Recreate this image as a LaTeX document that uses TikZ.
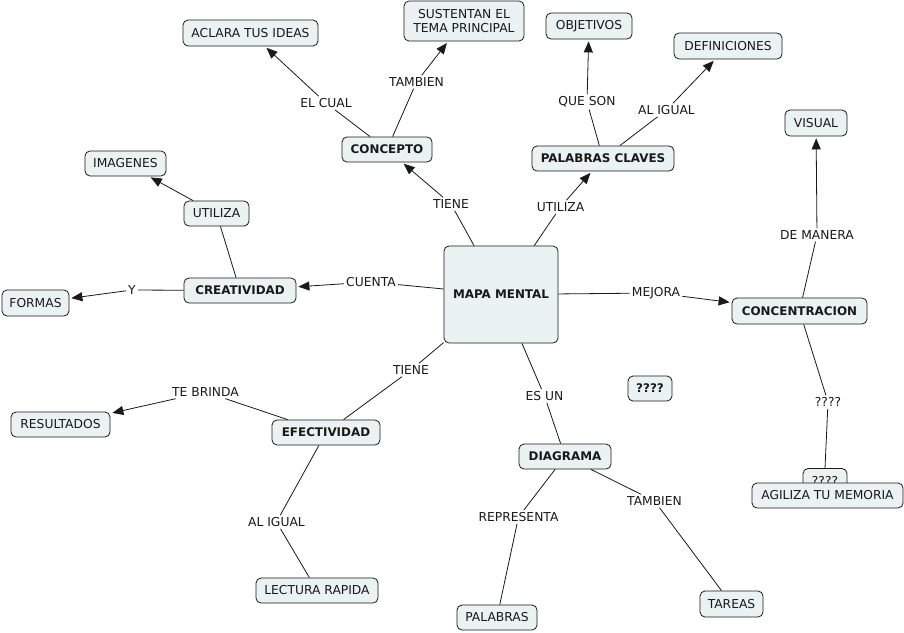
\documentclass[tikz,border=0pt]{standalone}
\usepackage{fontspec}
\setmainfont{DejaVu Sans}
\usetikzlibrary{arrows.meta}
\definecolor{boxfill}{RGB}{235,242,244}
\definecolor{ink}{RGB}{25,25,25}
\begin{document}
\begin{tikzpicture}[x=1pt,y=-1pt,
 box/.style={draw=ink, line width=0.8pt, rounded corners=5pt, fill=boxfill, minimum height=25pt, inner sep=0pt, font=\fontsize{12.3}{14}\selectfont, text=ink},
 bbox/.style={box, font=\fontsize{11.9}{14}\selectfont\bfseries},
 lab/.style={inner sep=2pt, font=\fontsize{12.3}{14}\selectfont, text=ink},
 conn/.style={draw=ink, line width=0.8pt},
 arr/.style={conn, -{Triangle[length=11pt,width=9pt]}, shorten >=2pt},
]
\useasboundingbox[fill=white] (0,0) rectangle (904,632);

% concepts
\node[bbox, minimum width=114pt, minimum height=97pt] (mapa) at (501,294.5) {MAPA MENTAL};
\node[bbox, minimum width=90pt] (concepto) at (387,149.5) {CONCEPTO};
\node[box, minimum width=135pt, minimum height=26pt] (aclara) at (250.5,33) {ACLARA TUS IDEAS};
\node[box, minimum width=120pt, minimum height=40pt, align=center] (sust) at (464,21) {SUSTENTAN EL\\TEMA PRINCIPAL};
\node[bbox, minimum width=142pt] (claves) at (603,158.5) {PALABRAS CLAVES};
\node[box, minimum width=86pt, minimum height=26pt] (objetivos) at (589,26) {OBJETIVOS};
\node[box, minimum width=108pt, minimum height=26pt] (defin) at (728,46) {DEFINICIONES};
\node[box, minimum width=62pt, minimum height=26pt] (visual) at (816,123) {VISUAL};
\node[bbox, minimum width=135pt, minimum height=26pt] (concen) at (799.5,311) {CONCENTRACION};
\node[box, minimum width=81pt] (imagenes) at (125.5,163.5) {IMAGENES};
\node[box, minimum width=65pt] (utilizab) at (216.5,213.5) {UTILIZA};
\node[bbox, minimum width=112pt] (creat) at (240,290.5) {CREATIVIDAD};
\node[box, minimum width=67pt, minimum height=26pt] (formas) at (35.5,303) {FORMAS};
\node[bbox, minimum width=108pt] (efect) at (326,432.5) {EFECTIVIDAD};
\node[box, minimum width=99pt] (result) at (60.5,424.5) {RESULTADOS};
\node[box, minimum width=122pt] (lectura) at (317,590.5) {LECTURA RAPIDA};
\node[bbox, minimum width=92pt] (diagrama) at (565,456.5) {DIAGRAMA};
\node[bbox, minimum width=44pt] (q1) at (650,388.5) {????};
\node[box, minimum width=80pt] (palabras) at (497,617.5) {PALABRAS};
\node[box, minimum width=63pt, minimum height=26pt] (tareas) at (731.5,604) {TAREAS};
\node[box, minimum width=44pt] (q2) at (825,481) {????};
\node[box, minimum width=151pt] (agiliza) at (827.5,495.5) {AGILIZA TU MEMORIA};

% linking phrases
\node[lab] (tiene1) at (451,204) {TIENE};
\node[lab] (elcual) at (326,103) {EL CUAL};
\node[lab] (tambien1) at (416.5,82) {TAMBIEN};
\node[lab] (utiliza1) at (560.5,207) {UTILIZA};
\node[lab] (queson) at (587,102) {QUE SON};
\node[lab] (aligual1) at (666.5,110) {AL IGUAL};
\node[lab] (mejora) at (656,293) {MEJORA};
\node[lab] (demanera) at (817,235) {DE MANERA};
\node[lab] (cuenta) at (371,282) {CUENTA};
\node[lab] (y) at (132,290) {Y};
\node[lab] (tiene2) at (411,370) {TIENE};
\node[lab] (tebrinda) at (205.5,392) {TE BRINDA};
\node[lab] (aligual2) at (276.5,522) {AL IGUAL};
\node[lab] (esun) at (544.5,396) {ES UN};
\node[lab] (representa) at (518.5,517) {REPRESENTA};
\node[lab] (tambien2) at (654.5,501) {TAMBIEN};
\node[lab] (q3) at (828,402) {????};

% connectors
\draw[conn] (mapa) -- (tiene1); \draw[arr] (tiene1) -- (concepto);
\draw[conn] (concepto) -- (elcual); \draw[arr] (elcual) -- (aclara);
\draw[conn] (concepto) -- (tambien1); \draw[arr] (tambien1) -- (sust);
\draw[conn] (mapa) -- (utiliza1); \draw[arr] (utiliza1) -- (claves);
\draw[conn] (claves) -- (queson); \draw[arr] (queson) -- (objetivos);
\draw[conn] (claves) -- (aligual1); \draw[arr] (aligual1) -- (defin);
\draw[conn] (mapa) -- (mejora); \draw[arr] (mejora) -- (concen);
\draw[conn] (concen) -- (demanera); \draw[arr] (demanera) -- (visual);
\draw[conn] (mapa) -- (cuenta); \draw[arr] (cuenta) -- (creat);
\draw[conn] (creat) -- (utilizab); \draw[arr] (utilizab) -- (imagenes);
\draw[conn] (creat) -- (y); \draw[arr] (y) -- (formas);
\draw[conn] (mapa) -- (tiene2); \draw[conn] (tiene2) -- (efect);
\draw[conn] (efect) -- (tebrinda); \draw[arr] (tebrinda) -- (result);
\draw[conn] (efect) -- (aligual2); \draw[conn] (aligual2) -- (lectura);
\draw[conn] (mapa) -- (esun); \draw[conn] (esun) -- (diagrama);
\draw[conn] (diagrama) -- (representa); \draw[conn] (representa) -- (palabras);
\draw[conn] (diagrama) -- (tambien2); \draw[conn] (tambien2) -- (tareas);
\draw[conn] (concen) -- (q3); \draw[conn] (q3) -- (q2.north);
\end{tikzpicture}
\end{document}
